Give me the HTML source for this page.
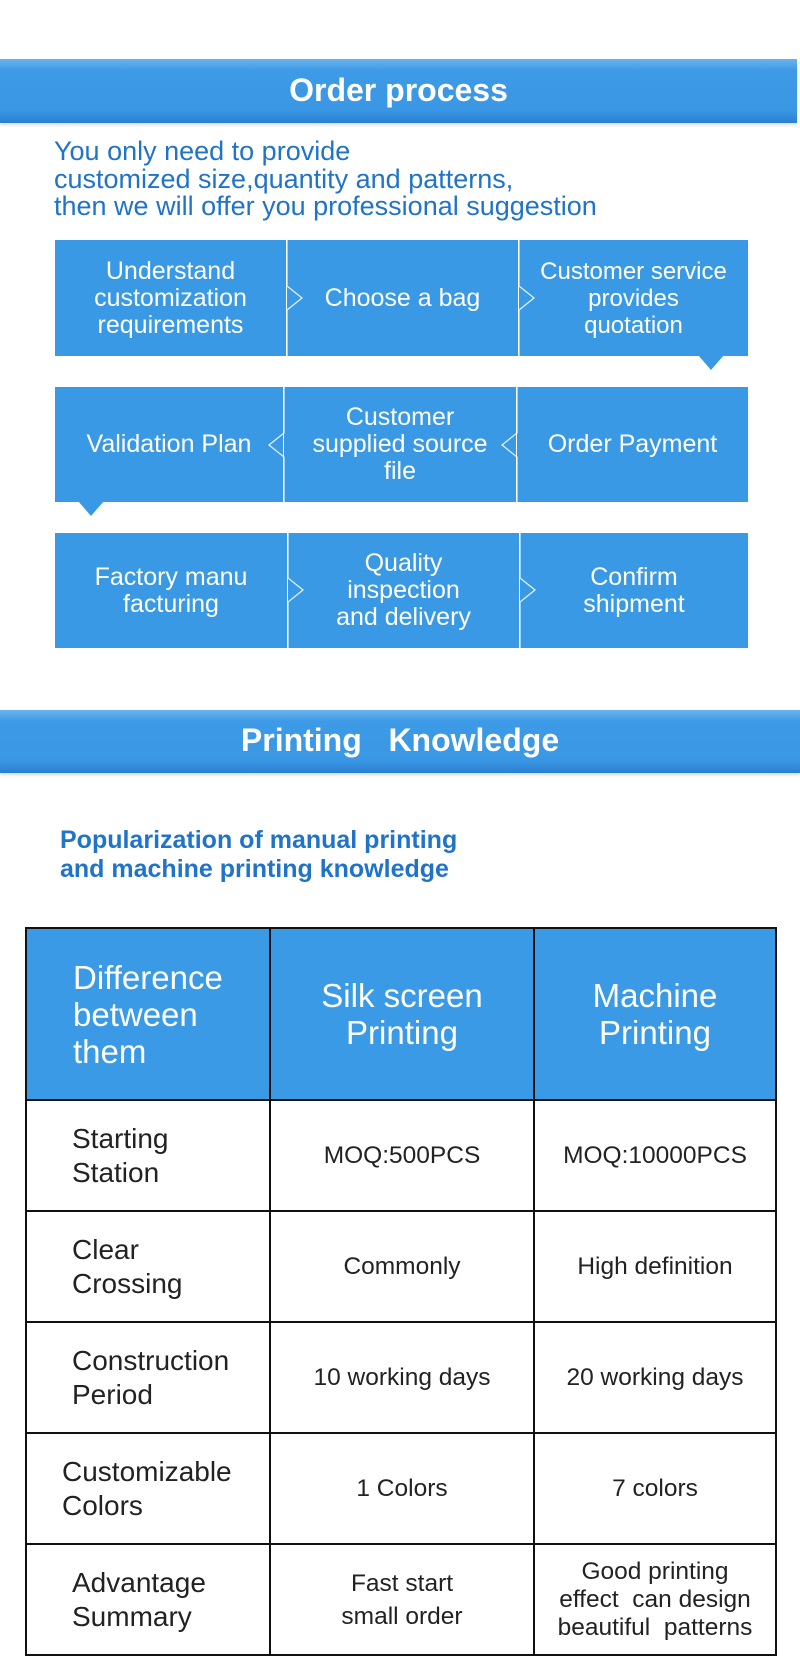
<!DOCTYPE html>
<html><head><meta charset="utf-8"><style>
body{margin:0;width:800px;height:1675px;background:#fff;position:relative;overflow:hidden;font-family:"Liberation Sans",sans-serif}
.ab{position:absolute}
.banner{position:absolute;left:0;width:797px;height:64px;background:linear-gradient(#6ab4ee 0%,#3d9ae6 18%,#3a97e4 80%,#2a7fd0 100%);color:#fff;font-weight:bold;font-size:32px;text-align:center;line-height:62px;box-shadow:0 2px 3px rgba(0,0,0,.15)}
.box{position:absolute;background:#3a99e5;color:#fff;font-size:25px;display:flex;align-items:center;justify-content:center;text-align:center;line-height:27px}
.t{position:absolute;border-collapse:collapse;left:25px;top:927px;width:752px}
.t td{border:2px solid #111;text-align:center;font-size:24.5px;color:#222;height:109px;padding:0}
.t tr.h td{background:#3a9ae6;color:#fff;font-size:33px;line-height:37px;height:170px}
.t td.l{text-align:left;padding-left:45px;font-size:28px;line-height:34px}
</style></head><body>
<div class="banner" style="top:59px">Order process</div>
<div class="ab" style="left:54px;top:138px;color:#1f73c8;font-size:27px;line-height:27.6px;white-space:nowrap">You only need to provide<br>customized size,quantity and patterns,<br>then we will offer you professional suggestion</div>

<div class="box" style="left:55px;top:240px;width:231px;height:116px">Understand<br>customization<br>requirements</div>
<div class="box" style="left:287px;top:240px;width:231px;height:116px">Choose a bag</div>
<div class="box" style="left:519px;top:240px;width:229px;height:116px;font-size:24px">Customer service<br>provides<br>quotation</div>
<div class="ab" style="left:698px;top:355px;width:0;height:0;border-left:13px solid transparent;border-right:13px solid transparent;border-top:15px solid #3a99e5"></div>
<div class="box" style="left:55px;top:387px;width:228px;height:115px">Validation Plan</div>
<div class="box" style="left:284px;top:387px;width:232px;height:115px">Customer<br>supplied source<br>file</div>
<div class="box" style="left:517px;top:387px;width:231px;height:115px">Order Payment</div>
<div class="ab" style="left:78px;top:501px;width:0;height:0;border-left:13px solid transparent;border-right:13px solid transparent;border-top:15px solid #3a99e5"></div>
<div class="box" style="left:55px;top:533px;width:232px;height:115px">Factory manu<br>facturing</div>
<div class="box" style="left:288px;top:533px;width:231px;height:115px">Quality<br>inspection<br>and delivery</div>
<div class="box" style="left:520px;top:533px;width:228px;height:115px">Confirm<br>shipment</div>

<svg class="ab" style="left:0;top:0" width="800" height="700">
<g fill="none" stroke="#fff" stroke-width="1.3" opacity=".85">
<polyline points="287,240 287,286 302,298 287,310 287,356"/>
<polyline points="519,240 519,286 534,298 519,310 519,356"/>
<polyline points="284,387 284,433 269,445 284,457 284,502"/>
<polyline points="517,387 517,433 502,445 517,457 517,502"/>
<polyline points="288,533 288,578 303,590 288,602 288,648"/>
<polyline points="520,533 520,578 535,590 520,602 520,648"/>
</g></svg>

<div class="banner" style="top:710px;height:63px;width:800px;line-height:60px">Printing&nbsp;&nbsp;&nbsp;Knowledge</div>
<div class="ab" style="left:60px;top:826px;color:#1f73c8;font-size:25px;font-weight:bold;line-height:29px;white-space:nowrap">Popularization of manual printing<br>and machine printing knowledge</div>

<table class="t">
<tr class="h"><td class="l" style="width:196px;font-size:33px;line-height:37px;padding-left:46px">Difference<br>between<br>them</td><td style="width:262px">Silk screen<br>Printing</td><td>Machine<br>Printing</td></tr>
<tr><td class="l">Starting<br>Station</td><td>MOQ:500PCS</td><td>MOQ:10000PCS</td></tr>
<tr><td class="l">Clear<br>Crossing</td><td>Commonly</td><td>High definition</td></tr>
<tr><td class="l">Construction<br>Period</td><td>10 working days</td><td>20 working days</td></tr>
<tr><td class="l" style="padding-left:35px">Customizable<br>Colors</td><td>1 Colors</td><td>7 colors</td></tr>
<tr><td class="l">Advantage<br>Summary</td><td style="line-height:33px">Fast start<br>small order</td><td style="line-height:28px">Good printing<br>effect&nbsp; can design<br>beautiful&nbsp; patterns</td></tr>
</table>
</body></html>
